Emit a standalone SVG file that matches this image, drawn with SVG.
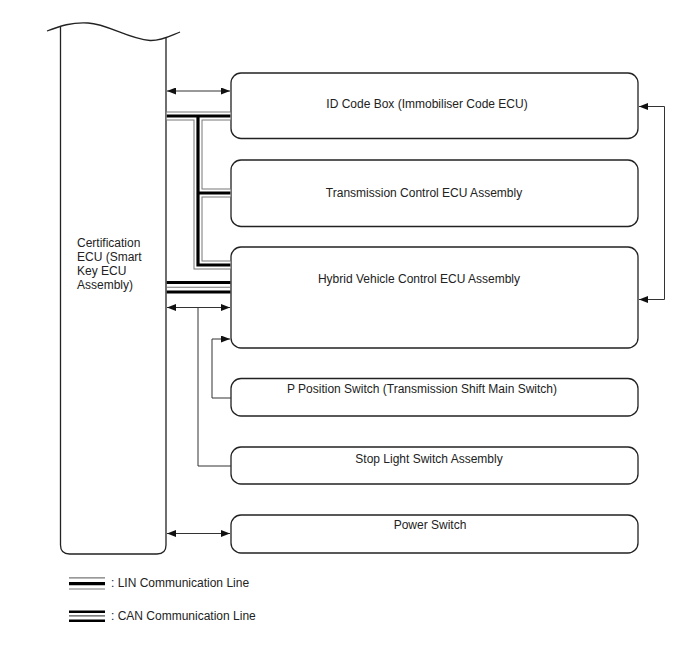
<svg xmlns="http://www.w3.org/2000/svg" width="688" height="658" viewBox="0 0 688 658">
<style>
.box{fill:#fff;stroke:#222;stroke-width:1.3}
.t{font-family:"Liberation Sans",Arial,sans-serif;font-size:12px;fill:#222}
.c{text-anchor:middle}
.ln{fill:none;stroke:#333;stroke-width:1}
.g1{fill:none;stroke:#777;stroke-width:9;stroke-linejoin:miter}
.g2{fill:none;stroke:#fff;stroke-width:7;stroke-linejoin:miter}
.g3{fill:none;stroke:#000;stroke-width:3.2;stroke-linejoin:miter}
</style>
<defs>
<marker id="ah" markerWidth="9" markerHeight="7" refX="9" refY="3.5" orient="auto-start-reverse" markerUnits="userSpaceOnUse">
<path d="M0,0 L9,3.5 L0,7 z" fill="#111"/>
</marker>
</defs>
<rect width="688" height="658" fill="#fff"/>

<g id="cert-ecu">
<path class="box" d="M60.5,27 L60.5,545 Q60.5,554 69.5,554 L157,554 Q166,554 166,545 L166,38" />
<path d="M47,31 C60,26 72,22 88,23 C108,24 128,39 150,40.5 C162,41 172,35 180,32" fill="none" stroke="#222" stroke-width="1.3"/>
<text class="t" x="77" y="247">Certification</text>
<text class="t" x="77" y="261">ECU (Smart</text>
<text class="t" x="77" y="275">Key ECU</text>
<text class="t" x="77" y="289">Assembly)</text>
</g>

<g id="id-code-box">
<rect class="box" x="231" y="73" width="407" height="65.5" rx="10"/>
<text class="t c" x="427" y="108">ID Code Box (Immobiliser Code ECU)</text>
</g>
<g id="transmission-ecu">
<rect class="box" x="231" y="160" width="407" height="66.5" rx="10"/>
<text class="t c" x="424" y="197">Transmission Control ECU Assembly</text>
</g>
<g id="hv-ecu">
<rect class="box" x="231" y="247" width="407" height="101" rx="10"/>
<text class="t c" x="419" y="283">Hybrid Vehicle Control ECU Assembly</text>
</g>
<g id="p-position-switch">
<rect class="box" x="231" y="378.5" width="407" height="37.5" rx="10"/>
<text class="t c" x="422" y="393">P Position Switch (Transmission Shift Main Switch)</text>
</g>
<g id="stop-light-switch">
<rect class="box" x="231" y="447" width="407" height="37" rx="10"/>
<text class="t c" x="429" y="463">Stop Light Switch Assembly</text>
</g>
<g id="power-switch">
<rect class="box" x="231" y="515" width="407" height="38" rx="10"/>
<text class="t c" x="430" y="529">Power Switch</text>
</g>

<g id="connectors">
<path class="g1" d="M166.7,116 L230.4,116 M198,116 L198,265 L230.4,265 M198,193 L230.4,193"/>
<path class="g2" d="M166.7,116 L230.4,116 M198,116 L198,265 L230.4,265 M198,193 L230.4,193"/>
<path class="g3" d="M166.7,116 L230.4,116 M198,116 L198,265 L230.4,265 M198,193 L230.4,193"/>
<line x1="166.7" y1="282.5" x2="230.4" y2="282.5" stroke="#000" stroke-width="2.8"/>
<line x1="166.7" y1="287.2" x2="230.4" y2="287.2" stroke="#777" stroke-width="1.1"/>
<line x1="166.7" y1="292" x2="230.4" y2="292" stroke="#000" stroke-width="2.8"/>
<line class="ln" x1="167" y1="91" x2="230" y2="91" marker-start="url(#ah)" marker-end="url(#ah)"/>
<line class="ln" x1="167" y1="307.5" x2="230" y2="307.5" marker-start="url(#ah)" marker-end="url(#ah)"/>
<line class="ln" x1="167" y1="533.5" x2="230" y2="533.5" marker-start="url(#ah)" marker-end="url(#ah)"/>
<polyline class="ln" points="198,307.5 198,466 231,466"/>
<polyline class="ln" points="231,398 212,398 212,339 230,339" marker-end="url(#ah)"/>
<polyline class="ln" points="639,106.5 664.5,106.5 664.5,299.5 639,299.5" stroke="#555" marker-start="url(#ah)" marker-end="url(#ah)"/>
</g>

<g id="legend">
<line x1="69" y1="577.8" x2="105" y2="577.8" stroke="#777" stroke-width="1.2"/>
<line x1="69" y1="583.6" x2="105" y2="583.6" stroke="#000" stroke-width="3.2"/>
<line x1="69" y1="589" x2="105" y2="589" stroke="#777" stroke-width="1.2"/>
<text class="t" x="111" y="587">: LIN Communication Line</text>
<line x1="69" y1="611.7" x2="105" y2="611.7" stroke="#000" stroke-width="2.6"/>
<line x1="69" y1="615.9" x2="105" y2="615.9" stroke="#555" stroke-width="1.1"/>
<line x1="69" y1="620.8" x2="105" y2="620.8" stroke="#000" stroke-width="2.6"/>
<text class="t" x="111" y="620">: CAN Communication Line</text>
</g>
</svg>
